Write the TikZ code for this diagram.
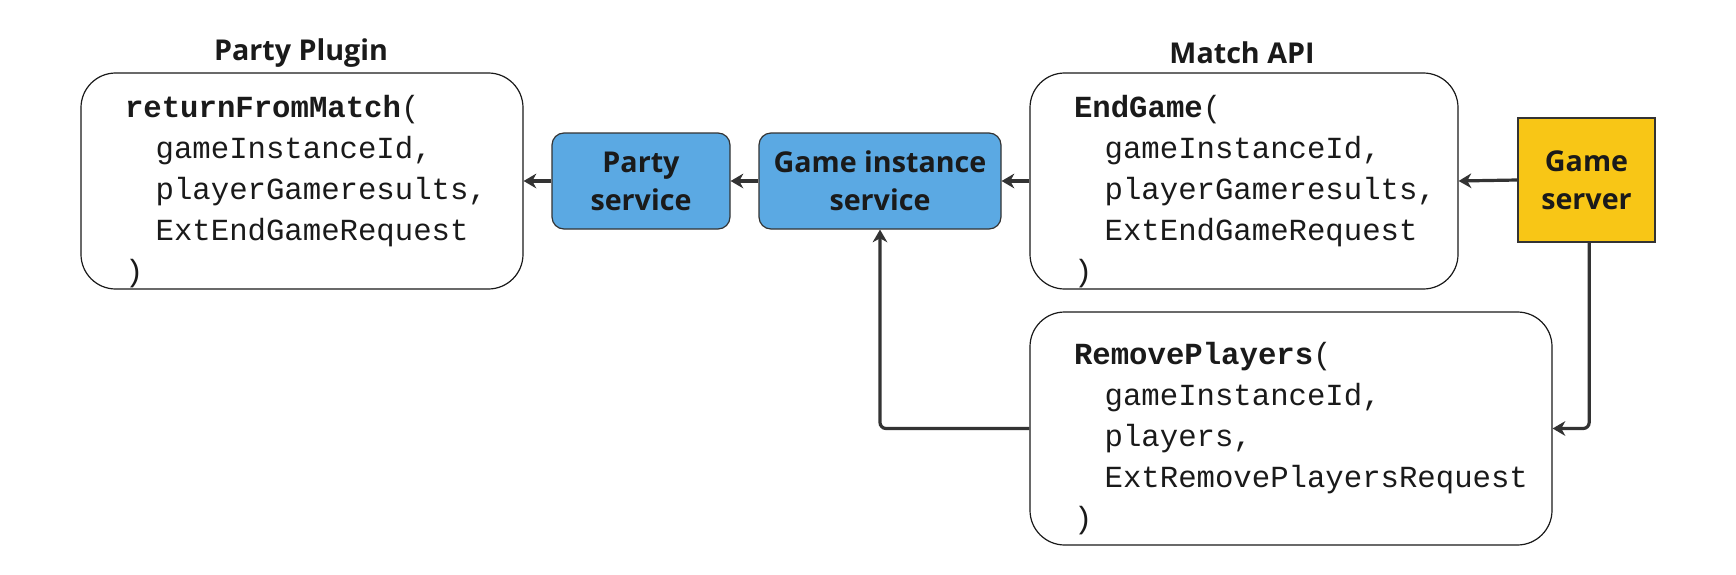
\documentclass[tikz,border=0pt]{standalone}
\usepackage{fontspec}
\setmainfont{Open Sans}
\setmonofont{Liberation Mono}
\usetikzlibrary{arrows.meta}
\definecolor{svcblue}{RGB}{91,169,227}
\definecolor{srvyellow}{RGB}{248,198,22}
\definecolor{ink}{RGB}{26,26,26}
\definecolor{wire}{RGB}{51,51,51}
\begin{document}
\begin{tikzpicture}[x=0.75pt,y=-0.75pt,
  title/.style={font=\fontsize{21.5}{24}\selectfont\bfseries, text=ink},
  codebox/.style={draw=ink, line width=0.9pt, fill=white, rounded corners=26pt,
    align=left, font=\ttfamily\fontsize{23}{30.75}\selectfont, text=ink,
    inner ysep=0pt},
  svc/.style={draw=wire, line width=0.9pt, fill=svcblue, rounded corners=9pt,
    align=center, font=\fontsize{21.5}{28.5}\selectfont\bfseries, text=ink},
  srv/.style={draw=wire, line width=0.9pt, fill=srvyellow,
    align=center, font=\fontsize{21.5}{28.5}\selectfont\bfseries, text=ink},
  conn/.style={draw=wire, line width=2.4pt, rounded corners=4.5pt,
    -{Stealth[length=9.5pt,width=11pt,inset=3pt]}}]
\useasboundingbox (0,0) rectangle (1736,575);

\node[title] (tparty) at (301,53) {Party Plugin};
\node[title] (tmatch) at (1242,53) {Match API};

\node[codebox, minimum height=162pt, text width=265.5pt, inner xsep=33pt] (plugin) at (302,181)
  {\rule{0pt}{32pt}\textbf{returnFromMatch}(\\
   \hspace*{1em}gameInstanceId,\\
   \hspace*{1em}playerGameresults,\\
   \hspace*{1em}ExtEndGameRequest\\
   )};

\node[svc, minimum width=133.5pt, minimum height=72pt] (party) at (641,181) {Party\\service};
\node[svc, minimum width=181.5pt, minimum height=72pt] (gis) at (880,181) {Game instance\\service};

\node[codebox, minimum height=162pt, text width=255pt, inner xsep=33pt] (endgame) at (1244,181)
  {\rule{0pt}{32pt}\textbf{EndGame}(\\
   \hspace*{1em}gameInstanceId,\\
   \hspace*{1em}playerGameresults,\\
   \hspace*{1em}ExtEndGameRequest\\
   )};

\node[srv, minimum width=102.75pt, minimum height=93pt] (server) at (1586.5,180) {Game\\server};

\node[codebox, minimum height=174.75pt, text width=325.5pt, inner xsep=33pt] (remove) at (1291,428.5)
  {\rule{0pt}{32pt}\textbf{RemovePlayers}(\\
   \hspace*{1em}gameInstanceId,\\
   \hspace*{1em}players,\\
   \hspace*{1em}ExtRemovePlayersRequest\\
   )};

\draw[conn] (server.west) -- (endgame.east);
\draw[conn] (endgame.west) -- (gis.east);
\draw[conn] (gis.west) -- (party.east);
\draw[conn] (party.west) -- (plugin.east);
\draw[conn] ([xshift=2pt]server.south) |- (remove.east);
\draw[conn] (remove.west) -| (gis.south);
\end{tikzpicture}
\end{document}
